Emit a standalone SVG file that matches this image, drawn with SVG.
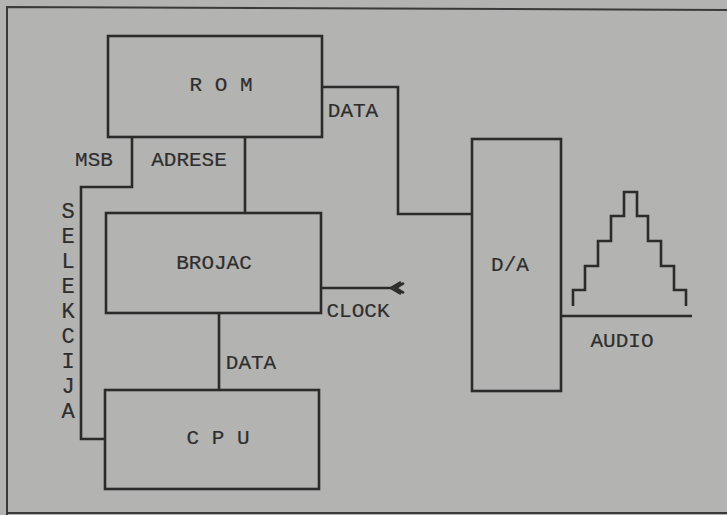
<svg xmlns="http://www.w3.org/2000/svg" width="727" height="515" viewBox="0 0 727 515">
<style>
.bg{fill:#b3b3b1}
.box{fill:none;stroke:#2b2b2b;stroke-width:2.6}
.ln{fill:none;stroke:#2b2b2b;stroke-width:2.6}
.fr{fill:none;stroke:#3a3a3a;stroke-width:2}
text{font-family:"Liberation Mono","Courier New",monospace;font-size:21px;fill:#2e2e2e;stroke:#2e2e2e;stroke-width:0.2;text-anchor:middle;dominant-baseline:central}
.v{font-size:22px}
</style>
<rect class="bg" x="0" y="0" width="727" height="515"/>
<g id="frame">
<path class="fr" d="M727,10 L7,7 L7,515"/>
<path class="fr" d="M7,513 L727,513"/>
</g>
<g id="connectors">
<path class="ln" d="M132,137 L132,187 L81,187 L81,439 L105,439"/>
<path class="ln" d="M245,137 L245,213"/>
<path class="ln" d="M219,313 L219,390"/>
<path class="ln" d="M322,87 L398,87 L398,214 L472,214"/>
<path class="ln" d="M321,288 L393,288"/>
<path class="ln" stroke-width="2" d="M401,282 L391,288 L401,294 M404,283 L396,288 L404,293"/>
<path class="ln" d="M561,316 L692,316"/>
</g>
<g id="rom">
<rect class="box" x="108" y="36" width="214" height="101"/>
<text x="221" y="85">R O M</text>
</g>
<g id="brojac">
<rect class="box" x="106" y="213" width="215" height="100"/>
<text x="214" y="263">BROJAC</text>
</g>
<g id="cpu">
<rect class="box" x="105" y="390" width="214" height="99"/>
<text x="218" y="438">C P U</text>
</g>
<g id="da">
<rect class="box" x="472" y="139" width="89" height="252"/>
<text x="510" y="265">D/A</text>
</g>
<g id="waveform">
<path class="ln" d="M573,306 L573,290 L585,290 L585,266 L598,266 L598,241 L611,241 L611,216 L624,216 L624,192 L637,192 L637,216 L648,216 L648,241 L661,241 L661,266 L674,266 L674,290 L686,290 L686,306"/>
</g>
<g id="labels">
<text x="94" y="160">MSB</text>
<text x="189" y="160">ADRESE</text>
<text x="353" y="111">DATA</text>
<text x="251" y="363">DATA</text>
<text x="358" y="311">CLOCK</text>
<text x="622" y="341">AUDIO</text>
<text class="v" x="68" y="212">S</text>
<text class="v" x="68" y="237">E</text>
<text class="v" x="68" y="262">L</text>
<text class="v" x="68" y="287">E</text>
<text class="v" x="68" y="312">K</text>
<text class="v" x="68" y="337">C</text>
<text class="v" x="68" y="362">I</text>
<text class="v" x="68" y="387">J</text>
<text class="v" x="68" y="412">A</text>
</g>
</svg>
